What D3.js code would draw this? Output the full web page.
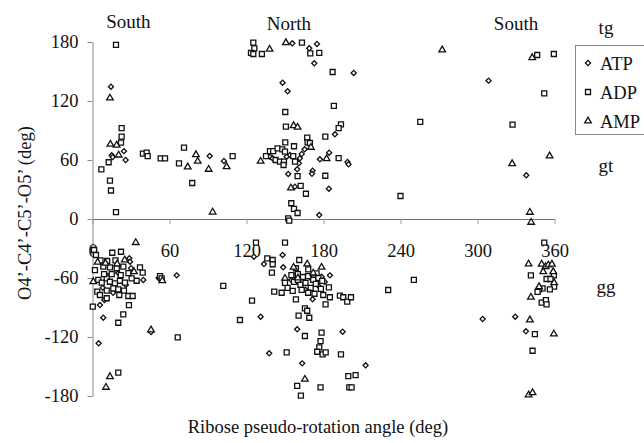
<!DOCTYPE html>
<html><head><meta charset="utf-8">
<script src="https://cdn.jsdelivr.net/npm/d3@7"></script>
<style>
html,body{margin:0;padding:0;background:#fff;}
svg text{font-family:"Liberation Serif","Times New Roman",serif;fill:#111;}
</style></head>
<body>
<svg id="c" width="644" height="443"></svg>
<script>
// ---- data ----
const xTicks = [0, 60, 120, 180, 240, 300, 360];
const yTicks = [-180, -120, -60, 0, 60, 120, 180];
const seriesNames = ["ATP", "ADP", "AMP"];
const regionLabels = [["South", 28, 28], ["North", 153, 30], ["South", 330, 30]];
const confLabels = [["tg", 34], ["gt", 172], ["gg", 293]];

const atp = [
 [14.4,134.5],[15,64.8],[15.7,63],[24.5,69],[25.8,60],[91.3,64],[102.4,59],
 [155.7,178.7],[168.9,173.6],[174.9,178],[172.8,158.3],[203.5,148.5],[148.1,138.6],[152,129.9],
 [188.9,86.1],[165.3,70.9],[138.3,63.4],[140.3,61.7],[151.3,63.4],[153.9,65.1],[161.6,61.7],
 [163,66.1],[160.8,56.6],[177.2,60.7],[184.4,67.4],[198.7,58],[199.5,55.6],[152.5,45.8],
 [159.5,50.5],[171.5,49.1],[171,46],[157.7,32.9],[184.2,30.8],[176.7,4],
 [308.6,140.7],[338,44.4],[304,-101.7],[329.4,-99.4],[337.7,-114.2],
 [125.8,-38.3],[148.1,-36.6],[133.6,-45.8],[148.6,-49.1],[185,-57.3],[178.5,-58.7],[171.5,-81.7],
 [131,-99.4],[159.5,-112.2],[194.9,-114.6],[137.7,-136.6],[163.4,-146.8],[212.8,-148.8],
 [155,-62],[162,-66],[170,-60],[176,-68],[166,-72],[158,-58],[181,-64],
 [28.7,-40],[29.2,-43.4],[65.6,-57.3],[51.5,-60],[39.6,-62],[9.2,-82.4],[5.8,-87.5],
 [8.4,-100.4],[45.6,-115],[4.8,-126.4],[20,-55],[12,-58],[26,-67],[16,-75],[8,-70],[30,-50]
];
const adp = [
 [18.3,177],[6.9,50.5],[12.6,57.7],[13.6,39],[14.4,29],[18.3,7],[22.7,92.5],[22.7,83.7],[22.2,77.6],
 [39.3,66.4],[42.2,67.4],[43,64],[53.1,61.7],[56.5,61.7],[67.4,56.6],[71.3,72.5],[77.7,36.6],[109.2,64],
 [125.3,179.3],[126.1,173.6],[123.5,169],[125.3,167.8],[132,167.8],[163.2,179.3],[169.7,168.5],
 [176.7,169],[187.1,149.5],[188.1,115],[150.2,108.8],[150.7,93.9],[193.6,96.3],[191.8,92.5],
 [181.4,83.7],[167.3,82.7],[167.6,78],[169.4,77.3],[150.2,78],[157,74],[135.2,64],[138.3,69],
 [140.8,69],[144.2,71.9],[147.9,70.9],[150,68.5],[142.7,60],[146.1,58.3],[149.2,58.3],[148.9,54.9],
 [156.4,64],[157.8,58.3],[191.8,62],[159.8,43.7],[181.4,44],[162.2,33.6],[166.3,25.7],[154.9,16],
 [157,10.2],[159.8,6.1],[152.5,0.7],[153.3,-1.7],[240,23.4],
 [346.5,166.8],[359.5,167.8],[352,127.8],[255.4,98.7],[327.3,96],[352,-24],[250.4,-62],
 [344.7,-117],[342.9,-134],[341.6,-57.3],[359.5,-57.3],[353.8,-61],[356.9,-61],[359.7,-68.8],
 [356.4,-71.5],[350.7,-70.5],[348,-71.5],[346.8,-74.2],[350,-85],[353.3,-82.4],[353.8,-86.8],
 [127.4,-24],[150,-24],[136.2,-40],[140.4,-41.7],[140.4,-46],[139.8,-54.6],[161.1,-41.7],
 [158.5,-50.1],[168.1,-51.2],[174.6,-55.2],[141.6,-73.9],[147.4,-75],[124.3,-83.1],[114.9,-102.7],
 [184.2,-69.5],[179.8,-77.3],[181.6,-86.8],[185,-79.6],[192.8,-78],[195.4,-79.6],[198.5,-84.1],
 [201.4,-79.6],[158.5,-81.7],[165.5,-90.8],[160.6,-98.3],[168.9,-100.4],[167.3,-93.3],[165.5,-119],
 [178.5,-115.6],[177.7,-124.1],[176.7,-130.5],[175.1,-135],[179.3,-137.6],[181.7,-135.6],
 [151.3,-135.6],[193.6,-137.6],[199.3,-159.7],[205,-158.7],[200.1,-171.2],[201.9,-171.2],
 [159.5,-169.8],[177.7,-171.2],[162.4,-179.7],[230.4,-72.2],[101.9,-68.1],[66.4,-120.3],
 [155,-57],[160,-56],[164,-59],[168,-58],[172,-62],[176,-60],[157,-64],[162,-67],[166,-65],
 [170,-70],[174,-66],[179,-63],[152,-70],[156,-73],[163,-72],[168,-75],[173,-76],[178,-71],
 [160,-62],[150,-65],
 [1.2,-31.5],[2.7,-36.6],[15.4,-34.3],[22.2,-33.3],[6.2,-42],[11.4,-42.7],[17.9,-42],[1.9,-51.9],
 [8.4,-48.5],[13.6,-49.1],[18.9,-50.1],[24,-48.5],[37,-49.1],[39.1,-54.6],[52.6,-58],[53.9,-60.3],
 [34.4,-62.8],[30.5,-60.3],[4.5,-62],[7.2,-64.8],[11.1,-60.3],[13.6,-63.8],[17.5,-65.4],[21.4,-62.8],
 [25.3,-64.8],[3.7,-73.9],[5.8,-77.3],[11.1,-72.9],[16.2,-70.5],[20.1,-71.5],[24.5,-72.9],
 [27.9,-78.3],[31.3,-78.3],[11.1,-80.6],[20.9,-77.3],[28.4,-87.5],[0.2,-89.2],[24,-96.9],
 [20.1,-105.5],[20.1,-156.3],[15,-56],[22,-57],[28,-55],[9,-56]
];
const amp = [
 [13.6,123],[13.9,76],[18.8,75],[20.4,65],[74.2,52.9],[80.6,65.4],[82,58.7],[90.5,50.5],[93.6,7],
 [104.5,53.2],[131,58.7],[138,172.6],[150.7,179.3],[156.7,94.9],[159.8,93.3],[170.2,72.9],
 [182.4,61.3],[154.6,31.5],
 [272.5,171.9],[342.6,164],[327,56.2],[356.2,64.1],[340.8,6.8],[341.8,-3.4],
 [340.8,-102.7],[359.5,-117],[339.8,-179],[342.9,-176.7],[339.8,-45.8],[350,-46],[353,-48.5],
 [355.2,-46.8],[358,-46],[351.2,-53.6],[359,-53.6],[359.7,-64.8],[348,-68.8],[341.6,-79.6],
 [156.7,-49.1],[167.3,-45.8],[178.5,-49.1],[150,-60.3],[165.5,-163],[172,-55],[160,-60],
 [33.7,-24],[4,-44],[10.1,-45],[19.2,-45.7],[25.1,-41.7],[32.3,-53.6],[54.4,-62.8],[0.6,-63.8],
 [45.6,-112.9],[13.6,-160.4],[10.5,-171.2]
];

// ---- chart ----
const svg = d3.select("#c");
const x = d3.scaleLinear().domain([0, 360]).range([92.5, 554.5]);
const y = d3.scaleLinear().domain([-180, 180]).range([396, 42]);
const fmt = d => String(d);

// y axis
const yAx = svg.append("g").attr("transform", `translate(${x(0)},0)`)
  .call(d3.axisLeft(y).tickValues(yTicks).tickFormat(fmt).tickSize(5).tickPadding(9).tickSizeOuter(0));
yAx.attr("font-family", null);
yAx.select(".domain").attr("stroke", "#c4c4c4").attr("stroke-width", 2);
yAx.selectAll(".tick line").attr("stroke", "#8a8a8a");
yAx.selectAll(".tick text").attr("font-size", 18.5).attr("fill", "#111");

// x axis at y=0
const xAx = svg.append("g").attr("transform", `translate(0,${y(0)})`)
  .call(d3.axisBottom(x).tickValues(xTicks).tickFormat(fmt).tickSize(5).tickPadding(20).tickSizeOuter(0));
xAx.attr("font-family", null);
xAx.select(".domain").attr("stroke", "#6e6e6e").attr("stroke-width", 1);
xAx.selectAll(".tick line").attr("stroke", "#9a9a9a");
xAx.selectAll(".tick text").attr("font-size", 18.5).attr("fill", "#111");

// markers
const shapes = {ATP: d3.symbolSquare, ADP: d3.symbolSquare, AMP: d3.symbolTriangle};
const sizes = {ATP: 13, ADP: 25, AMP: 19};
const rot = {ATP: 45, ADP: 0, AMP: 0};
const dataBy = {ATP: atp, ADP: adp, AMP: amp};
seriesNames.forEach(n => {
  const sym = d3.symbol().type(shapes[n]).size(sizes[n]);
  svg.append("g").selectAll("path").data(dataBy[n]).join("path")
    .attr("d", sym)
    .attr("transform", d => `translate(${x(d[0])},${y(d[1])}) rotate(${rot[n]})`)
    .attr("fill", "#fff").attr("stroke", "#111").attr("stroke-width", 1.3);
});

// region labels
svg.selectAll("text.reg").data(regionLabels).join("text").attr("class", "reg")
  .attr("x", d => x(d[1])).attr("y", d => d[2])
  .attr("text-anchor", "middle").attr("font-size", 19).text(d => d[0]);

// conformation labels
svg.selectAll("text.conf").data(confLabels).join("text").attr("class", "conf")
  .attr("x", 606).attr("y", d => d[1])
  .attr("text-anchor", "middle").attr("font-size", 19).text(d => d[0]);

// legend
const lg = svg.append("g");
lg.append("rect").attr("x", 575.5).attr("y", 45.5).attr("width", 70).attr("height", 89)
  .attr("fill", "#fff").attr("stroke", "#8a8a8a").attr("stroke-width", 1);
seriesNames.forEach((n, i) => {
  const cy = 63 + i * 29;
  lg.append("path").attr("d", d3.symbol().type(shapes[n]).size(sizes[n])())
    .attr("transform", `translate(588,${cy}) rotate(${rot[n]})`)
    .attr("fill", "#fff").attr("stroke", "#111").attr("stroke-width", 1.3);
  lg.append("text").attr("x", 600).attr("y", cy + 6.5).attr("font-size", 18.5).text(n);
});

// axis titles
svg.append("text").attr("x", 318).attr("y", 433).attr("text-anchor", "middle")
  .attr("font-size", 18.5).text("Ribose pseudo-rotation angle (deg)");
svg.append("text").attr("transform", "translate(31,213) rotate(-90)")
  .attr("text-anchor", "middle").attr("font-size", 18.5).text("O4’-C4’-C5’-O5’ (deg)");
</script>
</body></html>
